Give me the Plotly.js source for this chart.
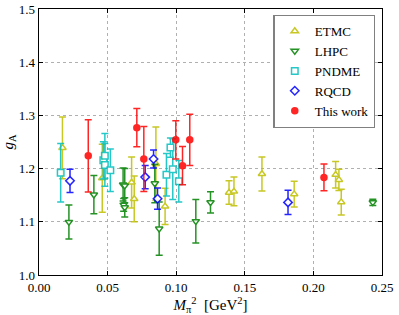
<!DOCTYPE html>
<html>
<head>
<meta charset="utf-8">
<script src="https://cdn.plot.ly/plotly-3.0.1.min.js"></script>
<style>
html,body{margin:0;padding:0;background:#fff;}
#chart{width:399px;height:315px;}
#chart svg text{font-family:"Liberation Serif","DejaVu Serif",serif !important;}
</style>
</head>
<body>
<div id="chart"></div>
<script>
// ETMC
const etmcX = [0.0171, 0.0461, 0.0675, 0.0694, 0.0852, 0.0919, 0.1385, 0.1421, 0.1625, 0.1860, 0.2162, 0.2186, 0.2203];
const etmcY = [1.239, 1.182, 1.174, 1.143, 1.209, 1.129, 1.155, 1.157, 1.190, 1.152, 1.1885, 1.179, 1.137];
const etmcE = [0.058, 0.064, 0.048, 0.043, 0.069, 0.034, 0.022, 0.027, 0.032, 0.024, 0.025, 0.020, 0.024];
// LHPC
const lhpcX = [0.0218, 0.0400, 0.0613, 0.0625, 0.0617, 0.0625, 0.0844, 0.0876, 0.1143, 0.1250, 0.2433];
const lhpcY = [1.0996, 1.151, 1.170, 1.168, 1.132, 1.127, 1.172, 1.087, 1.101, 1.1365, 1.1365];
const lhpcE = [0.032, 0.036, 0.031, 0.032, 0.012, 0.018, 0.036, 0.050, 0.041, 0.020, 0.006];
// PNDME
const pndmeX = [0.0158, 0.0469, 0.0480, 0.0480, 0.0520, 0.0929, 0.0958, 0.0975, 0.1019];
const pndmeY = [1.192, 1.2155, 1.224, 1.207, 1.197, 1.1885, 1.2395, 1.199, 1.176];
const pndmeE = [0.055, 0.035, 0.042, 0.040, 0.040, 0.040, 0.018, 0.057, 0.039];
// RQCD
const rqcdX = [0.0226, 0.0774, 0.0835, 0.0864, 0.1815];
const rqcdY = [1.177, 1.184, 1.218, 1.1434, 1.1365];
const rqcdE = [0.022, 0.022, 0.017, 0.020, 0.023];
// This work
const thisX = [0.0359, 0.0713, 0.0764, 0.0997, 0.1046, 0.1099, 0.2077];
const thisY = [1.224, 1.277, 1.218, 1.254, 1.2055, 1.254, 1.1835];
const thisE = [0.068, 0.036, 0.061, 0.036, 0.036, 0.048, 0.025];

const seriesNames = ['ETMC', 'LHPC', 'PNDME', 'RQCD', 'This work'];
const xTicks = [0.00, 0.05, 0.10, 0.15, 0.20, 0.25];
const xTickText = ['0.00', '0.05', '0.10', '0.15', '0.20', '0.25'];
const yTicks = [1.0, 1.1, 1.2, 1.3, 1.4, 1.5];
const yTickText = ['1.0', '1.1', '1.2', '1.3', '1.4', '1.5'];

function mk(name, x, y, e, color, symbol, filled) {
  return {
    type: 'scatter', mode: 'markers', name: name, x: x, y: y,
    error_y: {type: 'data', array: e, visible: true, color: color, thickness: 1.5, width: 3.5},
    marker: {symbol: symbol, size: filled ? 7.5 : 6.5, color: filled ? color : '#ffffff',
             line: {color: color, width: filled ? 0 : 1.5}},
    opacity: 0.85
  };
}

const data = [
  mk(seriesNames[0], etmcX, etmcY, etmcE, '#bfbf00', 'triangle-up', false),
  mk(seriesNames[1], lhpcX, lhpcY, lhpcE, '#008000', 'triangle-down', false),
  mk(seriesNames[2], pndmeX, pndmeY, pndmeE, '#00bfbf', 'square', false),
  mk(seriesNames[3], rqcdX, rqcdY, rqcdE, '#0000ff', 'diamond', false),
  mk(seriesNames[4], thisX, thisY, thisE, '#ff0000', 'circle', true)
];

const fontFam = 'Liberation Serif';
const layout = {
  width: 399, height: 315,
  margin: {l: 39, r: 16.5, t: 9.3, b: 39.7},
  paper_bgcolor: '#fff', plot_bgcolor: '#fff',
  font: {family: fontFam, size: 13, color: '#000'},
  showlegend: true,
  legend: {x: 0.981, y: 0.978, xanchor: 'right', yanchor: 'top',
           bordercolor: '#808080', borderwidth: 1.3, bgcolor: '#fff',
           font: {family: fontFam, size: 13}, tracegroupgap: 0, itemwidth: 30},
  xaxis: {range: [0, 0.25], tickvals: xTicks, ticktext: xTickText,
          showgrid: true, gridcolor: '#b0b0b0', griddash: 'dot', gridwidth: 1,
          zeroline: false, showline: true, linecolor: '#000', linewidth: 1.3, mirror: 'ticks',
          ticks: 'inside', ticklen: 4, tickcolor: '#000',
          tickfont: {family: fontFam, size: 13},
          title: {text: '<i>M</i><sub>π</sub><sup>2</sup>  [GeV<sup>2</sup>]', font: {family: fontFam, size: 15}, standoff: 4}},
  yaxis: {range: [1.0, 1.5], tickvals: yTicks, ticktext: yTickText,
          showgrid: true, gridcolor: '#b0b0b0', griddash: 'dot', gridwidth: 1,
          zeroline: false, showline: true, linecolor: '#000', linewidth: 1.3, mirror: 'ticks',
          ticks: 'inside', ticklen: 4, tickcolor: '#000',
          tickfont: {family: fontFam, size: 13},
          title: {text: '<i>g</i><sub>A</sub>', font: {family: fontFam, size: 15}, standoff: 4}}
};

Plotly.newPlot('chart', data, layout, {displayModeBar: false, staticPlot: true});
</script>
</body>
</html>
